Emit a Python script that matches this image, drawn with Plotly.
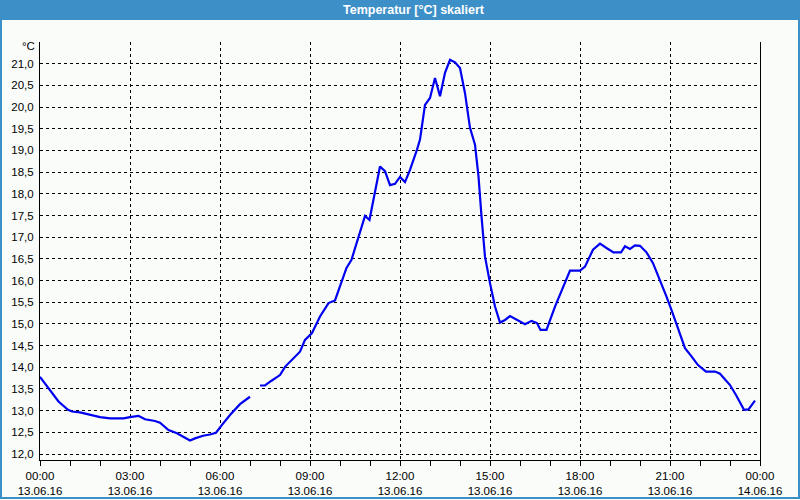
import plotly.graph_objects as go

# ---- data ----
times = ["00:00", "00:20", "00:37", "00:56", "01:04", "01:20", "01:40", "02:00", "02:20", "02:47",
         "03:00", "03:17", "03:30", "03:50", "04:00", "04:17", "04:34", "04:50", "05:00", "05:10",
         "05:26", "05:40", "05:52", "06:04", "06:20", "06:40", "07:00", "07:10",
         "07:20", "07:30", "07:43", "08:00", "08:10", "08:23", "08:40", "08:50", "09:04", "09:20",
         "09:37", "09:50", "10:00", "10:13", "10:23", "10:37", "10:50", "10:59", "11:08", "11:20",
         "11:30", "11:40", "11:50", "12:00", "12:10", "12:20", "12:34", "12:40", "12:50", "13:00",
         "13:10", "13:20", "13:30", "13:40", "13:50", "14:00", "14:10", "14:20", "14:30", "14:37",
         "14:43", "14:50", "15:00", "15:10", "15:20", "15:30", "15:40", "15:53", "16:10", "16:23",
         "16:34", "16:41", "16:53", "17:10", "17:26", "17:40", "18:00", "18:10", "18:26", "18:40",
         "18:53", "19:07", "19:22", "19:30", "19:40", "19:50", "20:00", "20:13", "20:26", "20:40",
         "20:53", "21:04", "21:17", "21:30", "21:43", "21:56", "22:12", "22:30", "22:40", "23:00",
         "23:12", "23:28", "23:37", "23:50"]
temps = [13.78, 13.48, 13.21, 13.02, 12.98, 12.96, 12.90, 12.85, 12.82, 12.82,
         12.85, 12.88, 12.80, 12.76, 12.72, 12.55, 12.48, 12.38, 12.31, 12.36,
         12.42, 12.45, 12.49, 12.67, 12.90, 13.15, 13.32, None,
         13.58, 13.58, 13.69, 13.82, 14.01, 14.17, 14.36, 14.63, 14.79, 15.17,
         15.48, 15.54, 15.86, 16.29, 16.48, 17.01, 17.49, 17.40, 17.94, 18.63,
         18.52, 18.20, 18.23, 18.39, 18.27, 18.55, 19.02, 19.25, 20.05, 20.21,
         20.67, 20.25, 20.79, 21.09, 21.03, 20.90, 20.32, 19.52, 19.13, 18.40,
         17.48, 16.55, 15.94, 15.40, 15.03, 15.09, 15.18, 15.09, 14.99, 15.07,
         15.02, 14.86, 14.86, 15.40, 15.86, 16.23, 16.23, 16.32, 16.71, 16.85,
         16.75, 16.65, 16.65, 16.79, 16.73, 16.81, 16.80, 16.65, 16.40, 16.02,
         15.63, 15.29, 14.86, 14.44, 14.25, 14.05, 13.90, 13.90, 13.85, 13.59,
         13.36, 13.02, 13.03, 13.23]

x_tick_vals = ["2016-06-13 00:00", "2016-06-13 03:00", "2016-06-13 06:00", "2016-06-13 09:00",
               "2016-06-13 12:00", "2016-06-13 15:00", "2016-06-13 18:00", "2016-06-13 21:00",
               "2016-06-14 00:00"]
x_tick_text = ["00:00<br>13.06.16", "03:00<br>13.06.16", "06:00<br>13.06.16", "09:00<br>13.06.16",
               "12:00<br>13.06.16", "15:00<br>13.06.16", "18:00<br>13.06.16", "21:00<br>13.06.16",
               "00:00<br>14.06.16"]
y_tick_vals = [12.0, 12.5, 13.0, 13.5, 14.0, 14.5, 15.0, 15.5, 16.0, 16.5, 17.0, 17.5,
               18.0, 18.5, 19.0, 19.5, 20.0, 20.5, 21.0]
y_tick_text = ["12,0", "12,5", "13,0", "13,5", "14,0", "14,5", "15,0", "15,5", "16,0", "16,5",
               "17,0", "17,5", "18,0", "18,5", "19,0", "19,5", "20,0", "20,5", "21,0"]
title_text = "Temperatur [°C] skaliert"
unit_text = "°C"

x_values = ["2016-06-13 " + t for t in times]

BG = "#FAFCFA"
BLUE_FRAME = "#3D8FC7"
FONT = "Liberation Sans"
FS = 11.5

L, R, T, B = 40, 40, 42, 40
W, H = 800, 500
pw, ph = W - L - R, H - T - B


def px2paper_x(px):
    return (px - L) / pw


def px2paper_y(py):
    return (H - B - py) / ph


fig = go.Figure()
fig.add_trace(go.Scatter(
    x=x_values, y=temps, mode="lines", connectgaps=False,
    line=dict(color="#0000F0", width=2.2), showlegend=False, hoverinfo="skip"))

fig.update_layout(
    width=W, height=H,
    margin=dict(l=L, r=R, t=T, b=B, autoexpand=False),
    paper_bgcolor=BG, plot_bgcolor=BG,
    font=dict(family=FONT, size=FS, color="black"),
    xaxis=dict(
        range=["2016-06-13 00:00", "2016-06-14 00:00"],
        tickmode="array", tickvals=x_tick_vals, ticktext=x_tick_text,
        showgrid=True, gridcolor="black", gridwidth=1, griddash="3px,3px",
        showline=True, linecolor="black", linewidth=1,
        ticks="outside", ticklen=5, tickcolor="black", tickwidth=1,
        minor=dict(dtick=3600000, ticks="outside", ticklen=5, tickcolor="black",
                   tickwidth=1, showgrid=False),
        zeroline=False, tickangle=0, automargin=False, ticklabelstandoff=0,
        tickfont=dict(family=FONT, size=FS, color="black"),
    ),
    yaxis=dict(
        range=[12 - 6 / 43.37, 21.5],
        tickmode="array", tickvals=y_tick_vals + [21.5], ticktext=y_tick_text + [""],
        showgrid=True, gridcolor="black", gridwidth=1, griddash="3px,3px",
        showline=True, linecolor="black", linewidth=1, mirror=True,
        ticks="", ticklabelstandoff=3, automargin=False,
        zeroline=False,
        tickfont=dict(family=FONT, size=FS, color="black"),
    ),
    shapes=[
        dict(type="rect", xref="paper", yref="paper",
             x0=px2paper_x(0), x1=px2paper_x(800), y0=px2paper_y(20), y1=px2paper_y(0),
             fillcolor=BLUE_FRAME, line=dict(width=0), layer="above"),
        dict(type="rect", xref="paper", yref="paper",
             x0=px2paper_x(1), x1=px2paper_x(799), y0=px2paper_y(498), y1=px2paper_y(19),
             fillcolor="rgba(0,0,0,0)", line=dict(color=BLUE_FRAME, width=2), layer="above"),
    ],
    annotations=[
        dict(text="<b>" + title_text + "</b>", xref="paper", yref="paper",
             x=px2paper_x(414), y=px2paper_y(10), xanchor="center", yanchor="middle",
             showarrow=False, font=dict(family=FONT, size=12.5, color="white")),
        dict(text=unit_text, xref="paper", yref="paper",
             x=px2paper_x(37), y=px2paper_y(46), xanchor="right", yanchor="middle",
             showarrow=False, font=dict(family=FONT, size=FS, color="black")),
    ],
)

fig.write_html("out.html")
